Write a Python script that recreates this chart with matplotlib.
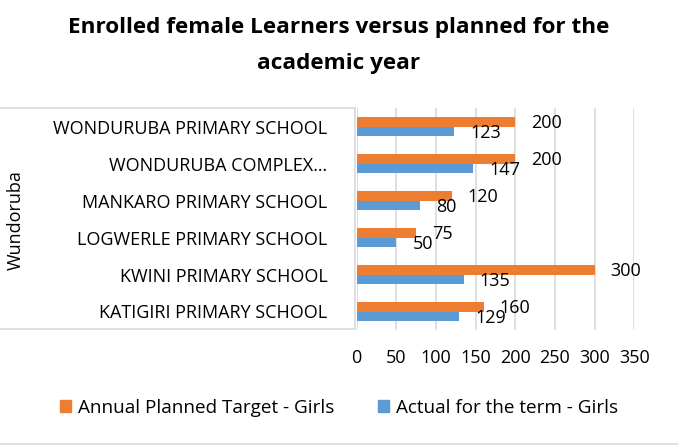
import numpy as np
import matplotlib.pyplot as plt
from matplotlib.lines import Line2D
from matplotlib.patches import Patch

plt.rcParams['font.family'] = ['Open Sans', 'DejaVu Sans']

# data (bottom to top, as drawn)
schools = ['KATIGIRI PRIMARY SCHOOL', 'KWINI PRIMARY SCHOOL', 'LOGWERLE PRIMARY SCHOOL',
           'MANKARO PRIMARY SCHOOL', 'WONDURUBA COMPLEX\u2026', 'WONDURUBA PRIMARY SCHOOL']
planned_girls = [160, 300, 75, 120, 200, 200]
actual_girls = [129, 135, 50, 80, 147, 123]
group_name = 'Wundoruba'
xticks = [0, 50, 100, 150, 200, 250, 300, 350]

ORANGE = '#ED7D31'
BLUE = '#5B9BD5'
GRID = '#D9D9D9'

W, H = 678, 447
fig = plt.figure(figsize=(W / 100, H / 100), dpi=100)
ax = fig.add_axes([356.7 / W, 1 - 330 / H, (634.3 - 356.7) / W, (330 - 108) / H])

y = np.arange(len(schools))
bh = 0.25
ax.barh(y + bh / 2, planned_girls, height=bh, color=ORANGE, zorder=3)
ax.barh(y - bh / 2, actual_girls, height=bh, color=BLUE, zorder=3)

for yi, v in zip(y, planned_girls):
    ax.annotate(str(v), (v, yi + bh / 2), xytext=(11.5, -1), textcoords='offset points',
                ha='left', va='center', fontsize=13, color='#000000', zorder=4)
for yi, v in zip(y, actual_girls):
    ax.annotate(str(v), (v, yi - bh / 2), xytext=(11.5, -1.5), textcoords='offset points',
                ha='left', va='center', fontsize=13, color='#000000', zorder=4)

ax.set_xlim(0, 350)
ax.set_ylim(-0.5, len(schools) - 0.5)
ax.set_xticks(xticks)
ax.set_xticklabels([str(t) for t in xticks], fontsize=13)
ax.set_yticks(y)
ax.set_yticklabels(schools, fontsize=13)
ax.tick_params(axis='both', length=0)
ax.tick_params(axis='y', pad=21)
ax.tick_params(axis='x', pad=14)
ax.grid(axis='x', color=GRID, linewidth=1.2, zorder=0)
for s in ax.spines.values():
    s.set_visible(False)

# category group box and label
def fline(x0, y0, x1, y1):
    fig.add_artist(Line2D([x0 / W, x1 / W], [1 - y0 / H, 1 - y1 / H], color=GRID, linewidth=1.2))

fline(0, 108, 355, 108)
fline(355, 108, 355, 329)
fline(0, 329, 355, 329)
fline(0, 444, W, 444)
fig.text(16 / W, 1 - 220 / H, group_name, rotation=90, ha='center', va='center', fontsize=13)

fig.text(0.5, 1 - 28 / H, 'Enrolled female Learners versus planned for the',
         ha='center', va='center', fontsize=16.2, fontweight='bold')
fig.text(0.5, 1 - 63 / H, 'academic year',
         ha='center', va='center', fontsize=16.2, fontweight='bold')

handles = [Patch(color=ORANGE), Patch(color=BLUE)]
fig.legend(handles, ['Annual Planned Target - Girls', 'Actual for the term - Girls'],
           loc='center', bbox_to_anchor=(0.5, 1 - 408 / H), ncol=2, frameon=False,
           fontsize=13.6, handlelength=0.6, handleheight=0.6, handletextpad=0.35, columnspacing=2.3)

fig.savefig('out.png', dpi=100)
